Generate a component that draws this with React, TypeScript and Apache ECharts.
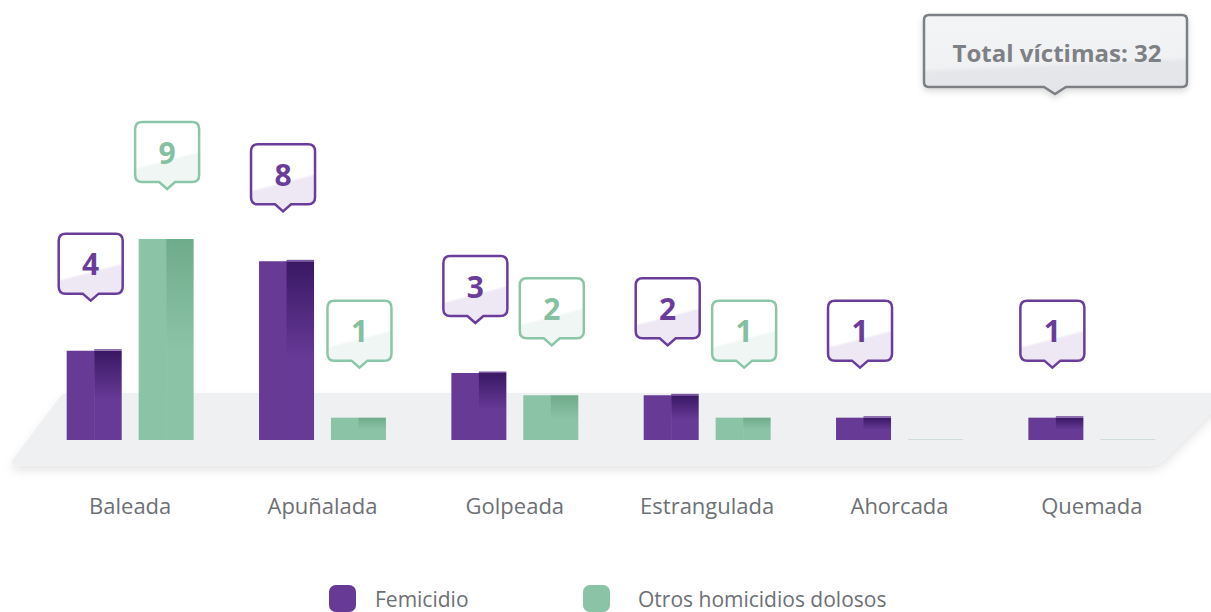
import React, { useEffect, useRef } from "react";
import * as echarts from "echarts";

const categories = ["Baleada", "Apuñalada", "Golpeada", "Estrangulada", "Ahorcada", "Quemada"];
const femicidio = [4, 8, 3, 2, 1, 1];
const otros = [9, 1, 2, 1, 0, 0];
const seriesNames = ["Femicidio", "Otros homicidios dolosos"];
const totalLabel = "Total víctimas";

const FONT = "'Open Sans', 'Noto Sans', sans-serif";

const PURPLE = {
  base: "#673a96",
  dark: "#3a1865",
  lip: "#7a55a5",
  stroke: "#6a3d9a",
  tint: "#eee8f5",
  text: "#6a3d9a",
  zero: "rgba(103,58,150,0.25)",
  shift: -3.5,
};
const GREEN = {
  base: "#8bc3a7",
  dark: "#6fac8b",
  lip: null as string | null,
  stroke: "#8cc6a8",
  tint: "#eff6f3",
  text: "#86c0a2",
  zero: "rgba(139,195,167,0.35)",
  shift: 1,
};

function calloutPath(cx: number, tipY: number, w: number, h: number, ph: number, pw: number, r: number) {
  const bottom = tipY - ph;
  const top = bottom - h;
  const l = cx - w / 2;
  const rt = cx + w / 2;
  return `M${l + r},${top} L${rt - r},${top} Q${rt},${top} ${rt},${top + r} L${rt},${bottom - r} Q${rt},${bottom} ${rt - r},${bottom} L${cx + pw / 2},${bottom} L${cx},${tipY} L${cx - pw / 2},${bottom} L${l + r},${bottom} Q${l},${bottom} ${l},${bottom - r} L${l},${top + r} Q${l},${top} ${l + r},${top} Z`;
}

function makeRenderItem(side: number, pal: any) {
  return (params: any, api: any) => {
    const idx = api.value(0);
    const val = api.value(1);
    const base = api.coord([idx, 0]);
    const topPt = api.coord([idx, val]);
    const catW = api.size([1, 0])[0];
    const bw = catW * 0.286;
    const cx = base[0] + side * catW * 0.187;
    const x0 = cx - bw / 2;
    const children: any[] = [];
    if (val <= 0) {
      children.push({
        type: "rect",
        shape: { x: x0, y: base[1] - 1, width: bw, height: 1 },
        style: { fill: pal.zero },
      });
      return { type: "group", children };
    }
    const h = base[1] - topPt[1];
    const half = bw / 2;
    children.push({
      type: "rect",
      shape: { x: x0, y: topPt[1], width: half + 0.5, height: h },
      style: { fill: pal.base },
    });
    children.push({
      type: "rect",
      shape: { x: x0 + half, y: topPt[1], width: half, height: h },
      style: {
        fill: {
          type: "linear",
          x: 0,
          y: 0,
          x2: 0,
          y2: 1,
          colorStops: [
            { offset: 0, color: pal.dark },
            { offset: 0.55, color: pal.base },
            { offset: 1, color: pal.base },
          ],
        },
      },
    });
    if (pal.lip) {
      children.push({
        type: "rect",
        shape: { x: x0 + half, y: topPt[1] - 1.5, width: half, height: 1.5 },
        style: { fill: pal.lip },
      });
    }
    const tipY = topPt[1] - 50;
    const ccx = cx + pal.shift;
    const boxH = 60;
    const ph = 7;
    children.push({
      type: "path",
      shape: { pathData: calloutPath(ccx, tipY, 64, boxH, ph, 16, 7) },
      style: {
        fill: {
          type: "linear",
          x: 0,
          y: 0,
          x2: 0.25,
          y2: 1,
          colorStops: [
            { offset: 0, color: "#ffffff" },
            { offset: 0.64, color: "#ffffff" },
            { offset: 0.68, color: pal.tint },
            { offset: 1, color: pal.tint },
          ],
        },
        stroke: pal.stroke,
        lineWidth: 2.5,
      },
    });
    children.push({
      type: "text",
      style: {
        text: String(val),
        x: ccx,
        y: tipY - ph - boxH / 2,
        align: "center",
        verticalAlign: "middle",
        fill: pal.text,
        fontSize: 30,
        fontWeight: "bold",
        fontFamily: FONT,
      },
    });
    return { type: "group", children };
  };
}

const floorD =
  "M66,393 L1231,393 L1166,458 Q1158,465.5 1148,465.5 L18,465.5 Q9,465.5 13,459 L61,395.5 Q63,393 66,393 Z";
const totalBoxD =
  "M929,15 L1182,15 Q1187,15 1187,20 L1187,82 Q1187,87 1182,87 L1066,87 L1055,94 L1044,87 L929,87 Q924,87 924,82 L924,20 Q924,15 929,15 Z";

let registered = false;
function registerShapes() {
  if (registered) return;
  registered = true;
  echarts.graphic.registerShape("floorShape", echarts.graphic.extendPath(floorD, {}) as any);
  echarts.graphic.registerShape("totalBox", echarts.graphic.extendPath(totalBoxD, {}) as any);
}

export default function App() {
  const ref = useRef<HTMLDivElement>(null);
  useEffect(() => {
    registerShapes();
    const chart = echarts.init(ref.current!, null, { renderer: "svg" });
    const total = femicidio.reduce((a, b) => a + b, 0) + otros.reduce((a, b) => a + b, 0);
    const legendBase = {
      orient: "horizontal",
      top: 585,
      padding: 0,
      itemWidth: 27,
      itemHeight: 27,
      icon: "roundRect",
      selectedMode: false,
    };
    chart.setOption({
      animation: false,
      backgroundColor: "#ffffff",
      graphic: [
        {
          type: "floorShape",
          x: 0,
          y: 0,
          z: -10,
          style: {
            fill: "#eff0f2",
            shadowBlur: 10,
            shadowColor: "rgba(0,0,0,0.10)",
            shadowOffsetY: 5,
          },
        },
        {
          type: "totalBox",
          x: 0,
          y: 0,
          z: 10,
          style: {
            fill: new echarts.graphic.LinearGradient(0, 0, 0.15, 1, [
              { offset: 0, color: "#f3f4f6" },
              { offset: 0.66, color: "#f0f1f3" },
              { offset: 0.72, color: "#e6e7ea" },
              { offset: 1, color: "#e4e5e8" },
            ]),
            stroke: "#7b7f83",
            lineWidth: 2.5,
            shadowBlur: 6,
            shadowColor: "rgba(0,0,0,0.15)",
            shadowOffsetY: 3,
          },
        },
        {
          type: "text",
          x: 1057,
          y: 52,
          z: 11,
          style: {
            text: `${totalLabel}: ${total}`,
            fill: "#7d8084",
            fontSize: 24,
            fontWeight: "bold",
            fontFamily: FONT,
            align: "center",
            verticalAlign: "middle",
          },
        },
      ],
      legend: [
        {
          ...legendBase,
          left: 329,
          data: [{ name: seriesNames[0] }],
          textStyle: { fontSize: 21, lineHeight: 20, color: "#6d7075", fontFamily: FONT, padding: [0, 0, 0, 14] },
        },
        {
          ...legendBase,
          left: 583,
          data: [{ name: seriesNames[1] }],
          textStyle: { fontSize: 21, lineHeight: 20, color: "#6d7075", fontFamily: FONT, padding: [0, 0, 0, 23] },
        },
      ],
      grid: { left: 34, right: 23, top: 38, bottom: 172 },
      xAxis: {
        type: "category",
        data: categories,
        axisLine: { show: false },
        axisTick: { show: false },
        splitLine: { show: false },
        axisLabel: { fontSize: 22, color: "#6d7075", fontFamily: FONT, margin: 54 },
      },
      yAxis: { type: "value", min: 0, max: 18, show: false },
      series: [
        {
          name: seriesNames[0],
          type: "custom",
          renderItem: makeRenderItem(-1, PURPLE),
          data: femicidio.map((v, i) => [i, v]),
          encode: { x: 0, y: 1 },
          itemStyle: { color: PURPLE.base },
          z: 3,
        },
        {
          name: seriesNames[1],
          type: "custom",
          renderItem: makeRenderItem(1, GREEN),
          data: otros.map((v, i) => [i, v]),
          encode: { x: 0, y: 1 },
          itemStyle: { color: GREEN.base },
          z: 3,
        },
      ],
    });
    return () => chart.dispose();
  }, []);
  return (
    <div
      ref={ref}
      style={{ position: "fixed", left: 0, top: 0, width: 1211, height: 612, background: "#fff" }}
    />
  );
}
